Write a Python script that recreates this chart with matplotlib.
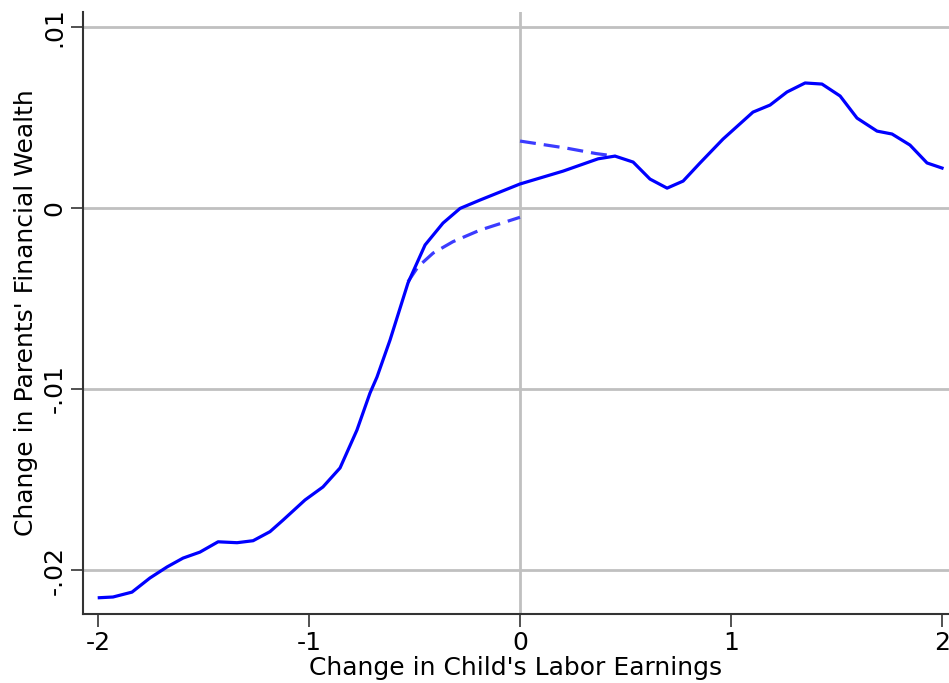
import numpy as np
import matplotlib.pyplot as plt

# local-linear fit of parents' wealth change on child's earnings change
x_fit = [-1.994, -1.929, -1.839, -1.754, -1.673, -1.597, -1.517, -1.431,
         -1.341, -1.265, -1.185, -1.123, -1.019, -0.934, -0.853, -0.773,
         -0.711, -0.678, -0.616, -0.531, -0.450, -0.365, -0.284, -0.190,
         0.0, 0.204, 0.370, 0.450, 0.536, 0.616, 0.697, 0.773, 0.853, 0.962,
         1.104, 1.185, 1.265, 1.351, 1.431, 1.517, 1.597, 1.692, 1.763,
         1.848, 1.929, 2.0]
y_fit = [-0.02153, -0.02149, -0.02122, -0.02044, -0.01983, -0.01934,
         -0.01901, -0.01844, -0.01849, -0.01838, -0.01788, -0.01724,
         -0.01613, -0.01541, -0.01436, -0.01227, -0.01022, -0.00934,
         -0.00729, -0.00414, -0.00204, -0.00083, -0.00002, 0.00044, 0.00133,
         0.00204, 0.00272, 0.00287, 0.00254, 0.00160, 0.00110, 0.00149,
         0.00249, 0.00381, 0.00530, 0.00569, 0.00641, 0.00691, 0.00685,
         0.00619, 0.00497, 0.00425, 0.00409, 0.00348, 0.00249, 0.00221]

# linear extrapolations on either side of zero
x_left = [-0.531, -0.483, -0.412, -0.318, -0.190, 0.0]
y_left = [-0.00407, -0.00324, -0.00249, -0.00186, -0.00122, -0.00051]
x_right = [0.0, 0.22, 0.36, 0.45]
y_right = [0.00370, 0.00331, 0.00301, 0.00287]

fig = plt.figure(figsize=(9.49, 6.83), dpi=100)
ax = fig.add_axes([0.0875, 0.101, 0.9125, 0.8814])

for yv in [-0.02, -0.01, 0.0, 0.01]:
    ax.axhline(yv, color='#c0c0c0', lw=2, zorder=0)
ax.axvline(0, color='#c0c0c0', lw=2, zorder=0)

ax.plot(x_left, y_left, color='#3b3bff', lw=2.3, dashes=(5, 2.5))
ax.plot(x_right, y_right, color='#3b3bff', lw=2.3, dashes=(5, 2.5))
ax.plot(x_fit, y_fit, color='#0000ff', lw=2.3)

ax.set_xlim(-2.071, 2.033)
ax.set_ylim(-0.02243, 0.01083)

ax.set_xticks([-2, -1, 0, 1, 2])
ax.set_xticklabels(['-2', '-1', '0', '1', '2'])
ax.set_yticks([-0.02, -0.01, 0.0, 0.01])
ax.set_yticklabels(['-.02', '-.01', '0', '.01'], rotation=90, va='center')

ax.tick_params(axis='both', direction='out', length=9, width=1.2,
               color='#333333', labelsize=18, pad=3)
for side in ['top', 'right']:
    ax.spines[side].set_visible(False)
for side in ['left', 'bottom']:
    ax.spines[side].set_color('#333333')
    ax.spines[side].set_linewidth(1.5)

ax.set_xlabel("Change in Child's Labor Earnings", fontsize=18, labelpad=1)
ax.set_ylabel("Change in Parents' Financial Wealth", fontsize=18, labelpad=3)

fig.savefig('out.png', dpi=100)
